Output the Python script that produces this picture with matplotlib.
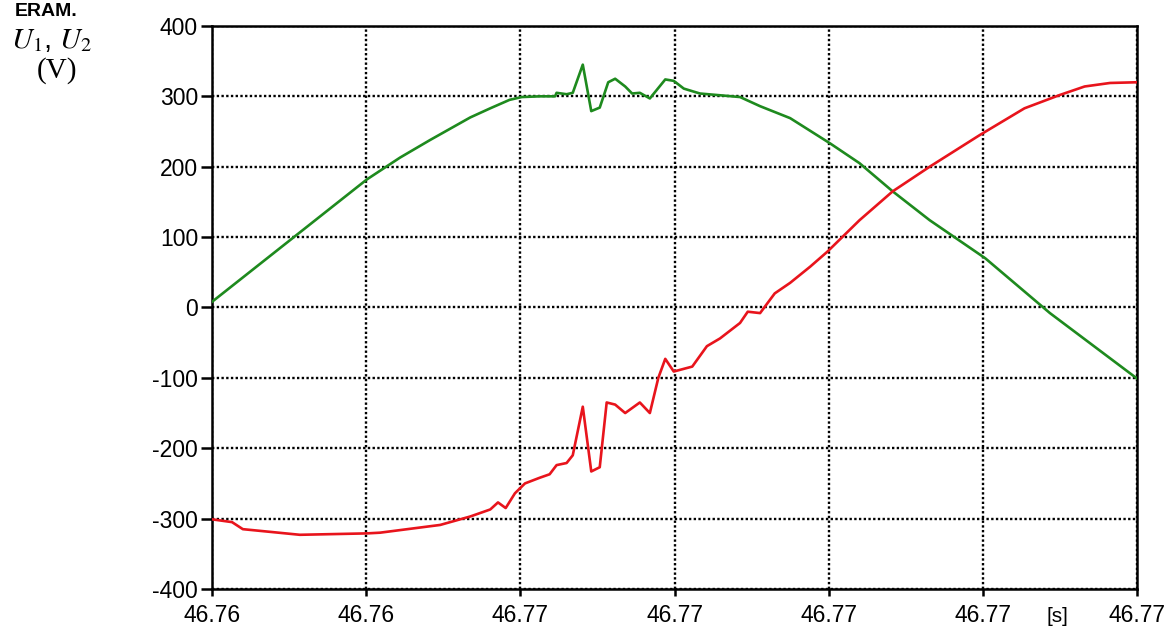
import matplotlib
matplotlib.use("Agg")
import matplotlib.pyplot as plt

plt.rcParams['font.family'] = ['Liberation Sans', 'DejaVu Sans']
plt.rcParams['mathtext.fontset'] = 'stix'
plt.rcParams['axes.unicode_minus'] = False

# time axis (s) and voltages (V)
t_u1 = [46.76150, 46.76351, 46.76394, 46.76433, 46.76485, 46.76511, 46.76536,
        46.76552, 46.76575, 46.76595, 46.76597, 46.76610, 46.76618, 46.76631,
        46.76642, 46.76653, 46.76664, 46.76673, 46.76686, 46.76695, 46.76705,
        46.76718, 46.76738, 46.76749, 46.76762, 46.76783, 46.76835, 46.76861,
        46.76900, 46.76952, 46.76990, 46.77033, 46.77081, 46.77153, 46.77237,
        46.77350]
u1 = [8, 182, 213, 238, 270, 283, 295,
      299, 300, 300, 305, 303, 305, 345,
      279, 284, 320, 325, 314, 304, 305,
      297, 324, 322, 311, 304, 299, 286,
      269, 233, 205, 165, 124, 70, -8,
      -101]

t_u2 = [46.76150, 46.76176, 46.76190, 46.76264, 46.76351, 46.76368, 46.76446,
        46.76485, 46.76511, 46.76521, 46.76531, 46.76543, 46.76556, 46.76575,
        46.76588, 46.76597, 46.76610, 46.76618, 46.76631, 46.76642, 46.76653,
        46.76662, 46.76673, 46.76686, 46.76705, 46.76718, 46.76729, 46.76738,
        46.76749, 46.76773, 46.76792, 46.76809, 46.76835, 46.76845, 46.76861,
        46.76880, 46.76900, 46.76926, 46.76948, 46.76990, 46.77033, 46.77081,
        46.77146, 46.77204, 46.77250, 46.77282, 46.77315, 46.77350]
u2 = [-301, -305, -315, -323, -321, -320, -309,
      -297, -287, -277, -285, -264, -250, -242,
      -237, -224, -221, -210, -141, -233, -227,
      -135, -138, -150, -135, -150, -100, -73,
      -91, -84, -55, -44, -22, -6, -8,
      20, 35, 58, 79, 124, 165, 200,
      245, 283, 302, 314, 319, 320]

x_ticks = [46.7615, 46.7635, 46.7655, 46.7675, 46.7695, 46.7715, 46.7735]
x_labels = ['46.76', '46.76', '46.77', '46.77', '46.77', '46.77', '46.77']
y_ticks = [-400, -300, -200, -100, 0, 100, 200, 300, 400]

fig = plt.figure(figsize=(11.68, 6.3), dpi=100)
ax = fig.add_axes([0.1815, 0.0651, 0.792, 0.8937])

ax.plot(t_u1, u1, color='#1e8a1e', lw=1.9, zorder=3)
ax.plot(t_u2, u2, color='#e8141c', lw=1.9, zorder=3)

ax.set_xlim(x_ticks[0], x_ticks[-1])
ax.set_ylim(-400, 400)
ax.set_xticks(x_ticks)
ax.set_xticklabels(x_labels)
ax.set_yticks(y_ticks)
ax.grid(True, color='black', linestyle=(0, (1, 1)), lw=1.7)

for s in ax.spines.values():
    s.set_linewidth(1.8)
ax.tick_params(axis='x', direction='out', length=5, width=1.8, pad=6, labelsize=16.5)
ax.tick_params(axis='y', direction='out', length=8, width=1.8, pad=2, labelsize=16.5)

fig.text(52/1168, 1 - 40/630, r'$U_1$, $U_2$', fontsize=21, ha='center', va='center')
fig.text(57/1168, 1 - 71/630, '(V)', fontsize=21, ha='center', va='center',
         family=['Liberation Serif', 'DejaVu Serif'])
fig.text(1057/1168, 1 - 617/630, '[s]', fontsize=15, ha='center', va='center')
fig.text(15/1168, 1 - 16/630, 'ERAM.', fontsize=14, fontweight='bold', ha='left', va='baseline')

fig.savefig('out.png', dpi=100)
